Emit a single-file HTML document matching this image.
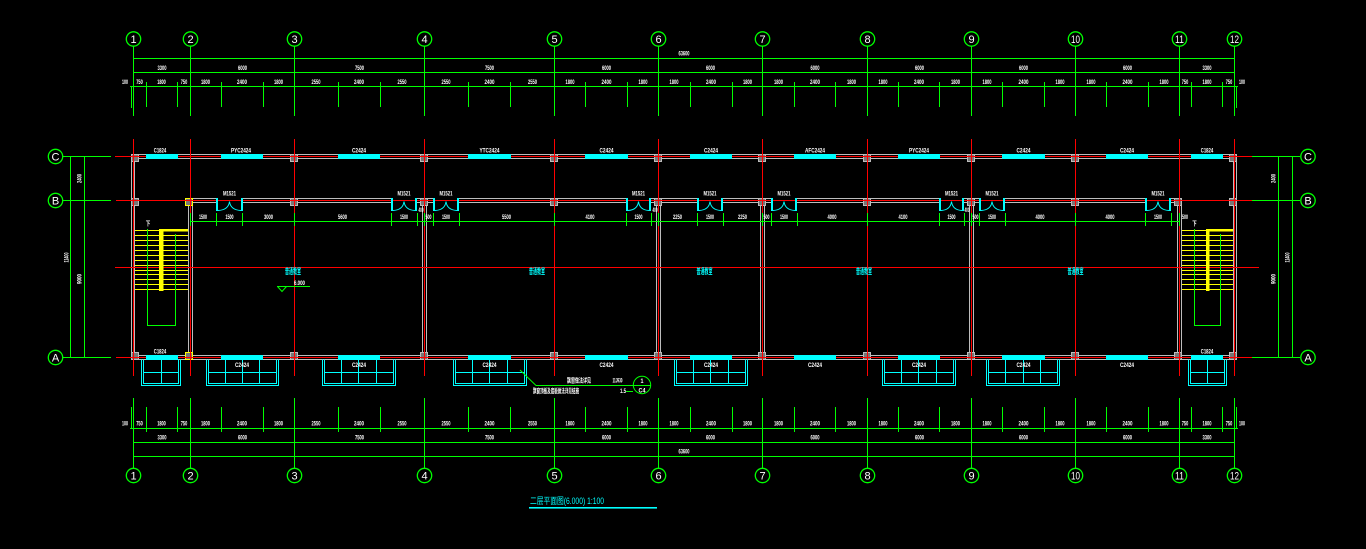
<!DOCTYPE html>
<html><head><meta charset="utf-8">
<style>
html,body{margin:0;padding:0;background:#000;}
svg{display:block;}
.t{fill:#fff;font-family:"Liberation Sans","Noto Sans CJK SC",sans-serif;font-size:6.5px;font-weight:bold;text-anchor:middle;}
.n{fill:#fff;font-family:"Liberation Sans",sans-serif;font-size:11px;text-anchor:middle;}
.cy{fill:#00ffff;font-family:"Liberation Sans","Noto Sans CJK SC",sans-serif;font-size:8px;font-weight:bold;text-anchor:middle;}
.ti{fill:#00ffff;font-family:"Liberation Sans","Noto Sans CJK SC",sans-serif;font-size:9px;}
</style></head><body>
<svg width="1366" height="549" viewBox="0 0 1366 549" xmlns="http://www.w3.org/2000/svg">
<rect width="1366" height="549" fill="#000"/>

<!-- ============ WALLS (grey) ============ -->
<g stroke="#bdbdbd" stroke-width="1" fill="none">
<path d="M131.5 154.5H1236.5M131.5 158.5H1236.5"/>
<path d="M131.5 355.5H1236.5M131.5 359.5H1236.5"/>
<path d="M131.5 154.5V359.5M134.5 158.5V355.5M1233.5 158.5V355.5M1236.5 154.5V359.5"/>
<path d="M188 198.5H216M243 198.5H391M417 198.5H433M459 198.5H626M651 198.5H697M723 198.5H771M797 198.5H939M964 198.5H979M1005 198.5H1145M1171 198.5H1182"/>
<path d="M188 202.5H216M243 202.5H391M417 202.5H433M459 202.5H626M651 202.5H697M723 202.5H771M797 202.5H939M964 202.5H979M1005 202.5H1145M1171 202.5H1182"/>
<path d="M188.5 202.5V355.5M192.5 202.5V355.5M422.5 202.5V355.5M426.5 202.5V355.5M656.5 202.5V355.5M660.5 202.5V355.5M760.5 202.5V355.5M764.5 202.5V355.5M969.5 202.5V355.5M973.5 202.5V355.5M1177.5 202.5V355.5M1181.5 202.5V355.5"/>
</g>

<!-- ============ COLUMNS ============ -->
<g fill="#777" stroke="#bdbdbd" stroke-width="1">
<rect x="131.5" y="154.5" width="7" height="7"/>
<rect x="290.5" y="154.5" width="7" height="7"/>
<rect x="420.5" y="154.5" width="7" height="7"/>
<rect x="550.5" y="154.5" width="7" height="7"/>
<rect x="654.5" y="154.5" width="7" height="7"/>
<rect x="758.5" y="154.5" width="7" height="7"/>
<rect x="863.5" y="154.5" width="7" height="7"/>
<rect x="967.5" y="154.5" width="7" height="7"/>
<rect x="1071.5" y="154.5" width="7" height="7"/>
<rect x="1229.5" y="154.5" width="7" height="7"/>

<rect x="131.5" y="198.5" width="7" height="7"/>
<rect x="290.5" y="198.5" width="7" height="7"/>
<rect x="420.5" y="198.5" width="7" height="7"/>
<rect x="550.5" y="198.5" width="7" height="7"/>
<rect x="654.5" y="198.5" width="7" height="7"/>
<rect x="758.5" y="198.5" width="7" height="7"/>
<rect x="863.5" y="198.5" width="7" height="7"/>
<rect x="967.5" y="198.5" width="7" height="7"/>
<rect x="1071.5" y="198.5" width="7" height="7"/>
<rect x="1174.5" y="198.5" width="7" height="7"/>
<rect x="1229.5" y="198.5" width="7" height="7"/>

<rect x="131.5" y="352.5" width="7" height="7"/>
<rect x="290.5" y="352.5" width="7" height="7"/>
<rect x="420.5" y="352.5" width="7" height="7"/>
<rect x="550.5" y="352.5" width="7" height="7"/>
<rect x="654.5" y="352.5" width="7" height="7"/>
<rect x="758.5" y="352.5" width="7" height="7"/>
<rect x="863.5" y="352.5" width="7" height="7"/>
<rect x="967.5" y="352.5" width="7" height="7"/>
<rect x="1071.5" y="352.5" width="7" height="7"/>
<rect x="1174.5" y="352.5" width="7" height="7"/>
<rect x="1229.5" y="352.5" width="7" height="7"/>
</g>
<g fill="#777" stroke="#ffff00" stroke-width="1">
<rect x="185.5" y="198.5" width="7" height="7"/>
<rect x="185.5" y="352.5" width="7" height="7"/>
</g>

<!-- ============ AXIS LINES (red) ============ -->
<g stroke="#ff0000" stroke-width="1" fill="none">
<path d="M115 156.5H1252M116 200.5H1252M116 357.5H1252M115 267.5H1259"/>
<path d="M133.5 139V376M190.5 139V376M294.5 139V376M424.5 139V376M554.5 139V376M658.5 139V376M762.5 139V376M867.5 139V376M971.5 139V376M1075.5 139V376M1179.5 139V376M1234.5 139V376"/>
</g>

<!-- ============ WINDOWS (cyan) ============ -->
<g fill="#00ffff">
<rect x="146" y="154" width="32" height="5"/>
<rect x="221" y="154" width="42" height="5"/>
<rect x="338" y="154" width="42" height="5"/>
<rect x="468" y="154" width="43" height="5"/>
<rect x="585" y="154" width="43" height="5"/>
<rect x="690" y="154" width="42" height="5"/>
<rect x="794" y="154" width="42" height="5"/>
<rect x="898" y="154" width="42" height="5"/>
<rect x="1002" y="154" width="43" height="5"/>
<rect x="1106" y="154" width="42" height="5"/>
<rect x="1191" y="154" width="32" height="5"/>

<rect x="146" y="355" width="32" height="5"/>
<rect x="221" y="355" width="42" height="5"/>
<rect x="338" y="355" width="42" height="5"/>
<rect x="468" y="355" width="43" height="5"/>
<rect x="585" y="355" width="43" height="5"/>
<rect x="690" y="355" width="42" height="5"/>
<rect x="794" y="355" width="42" height="5"/>
<rect x="898" y="355" width="42" height="5"/>
<rect x="1002" y="355" width="43" height="5"/>
<rect x="1106" y="355" width="42" height="5"/>
<rect x="1191" y="355" width="32" height="5"/>
</g>

<!-- Bay windows -->
<g stroke="#00ffff" stroke-width="1" fill="none">
<path d="M141.5 359.5V385.5H180.5V359.5M143.5 359.5V383.5H178.5V359.5M143.5 372.5H178.5M161.5 359.5V383.5"/>
<path d="M206.5 359.5V385.5H278.5V359.5M208.5 359.5V383.5H276.5V359.5M208.5 372.5H276.5M225.5 359.5V383.5M242.5 359.5V383.5M259.5 359.5V383.5"/>
<path d="M322.5 359.5V385.5H395.5V359.5M324.5 359.5V383.5H393.5V359.5M324.5 372.5H393.5M341.5 359.5V383.5M358.5 359.5V383.5M376.5 359.5V383.5"/>
<path d="M453.5 359.5V385.5H526.5V359.5M455.5 359.5V383.5H524.5V359.5M455.5 372.5H524.5M472.5 359.5V383.5M489.5 359.5V383.5M507.5 359.5V383.5"/>
<path d="M674.5 359.5V385.5H747.5V359.5M676.5 359.5V383.5H745.5V359.5M676.5 372.5H745.5M693.5 359.5V383.5M710.5 359.5V383.5M728.5 359.5V383.5"/>
<path d="M882.5 359.5V385.5H955.5V359.5M884.5 359.5V383.5H953.5V359.5M884.5 372.5H953.5M901.5 359.5V383.5M918.5 359.5V383.5M936.5 359.5V383.5"/>
<path d="M986.5 359.5V385.5H1059.5V359.5M988.5 359.5V383.5H1057.5V359.5M988.5 372.5H1057.5M1005.5 359.5V383.5M1023.5 359.5V383.5M1040.5 359.5V383.5"/>
<path d="M1188.5 359.5V385.5H1226.5V359.5M1190.5 359.5V383.5H1224.5V359.5M1190.5 372.5H1224.5M1207.5 359.5V383.5"/>
</g>

<!-- Doors -->
<g stroke="#00ffff" fill="none">
<g stroke-width="2">
<path d="M217 198V211M242 198V211M392 198V211M416 198V211M434 198V211M458 198V211M627 198V211M650 198V211M698 198V211M722 198V211M772 198V211M796 198V211M940 198V211M963 198V211M980 198V211M1004 198V211M1146 198V211M1170 198V211"/>
</g>
<g stroke-width="1">
<path d="M218 210.5Q228.5 210 229.5 201.5Q230.5 210 241 210.5"/>
<path d="M393 210.5Q403 210 404 201.5Q405 210 415 210.5"/>
<path d="M435 210.5Q445 210 446 201.5Q447 210 457 210.5"/>
<path d="M628 210.5Q637.5 210 638.5 201.5Q639.5 210 649 210.5"/>
<path d="M699 210.5Q709 210 710 201.5Q711 210 721 210.5"/>
<path d="M773 210.5Q783 210 784 201.5Q785 210 795 210.5"/>
<path d="M941 210.5Q950.5 210 951.5 201.5Q952.5 210 962 210.5"/>
<path d="M981 210.5Q991 210 992 201.5Q993 210 1003 210.5"/>
<path d="M1147 210.5Q1157 210 1158 201.5Q1159 210 1169 210.5"/>
</g>
</g>

<!-- ============ STAIRS ============ -->
<g stroke="#ffff00" stroke-width="1" fill="none">
<path d="M135 230.5H188M135 235.5H188M135 240.5H188M135 245.5H188M135 250.5H188M135 255.5H188M135 260.5H188M135 265.5H188M135 270.5H188M135 274.5H188M135 279.5H188M135 284.5H188M135 289.5H188"/>
<path d="M1182 230.5H1233M1182 235.5H1233M1182 240.5H1233M1182 245.5H1233M1182 250.5H1233M1182 255.5H1233M1182 260.5H1233M1182 265.5H1233M1182 270.5H1233M1182 274.5H1233M1182 279.5H1233M1182 284.5H1233M1182 289.5H1233"/>
</g>
<g fill="#ffff00">
<rect x="159" y="229" width="4.5" height="62"/>
<rect x="159" y="229" width="29" height="2.5"/>
<rect x="1206" y="229" width="3.5" height="62"/>
<rect x="1206" y="229" width="27" height="2.5"/>
</g>

<!-- ============ GREEN DIMENSIONS ============ -->
<g stroke="#00ff00" stroke-width="1" fill="none">
<!-- top -->
<path d="M133.5 46V116M190.5 46V116M294.5 46V116M424.5 46V116M554.5 46V116M658.5 46V116M762.5 46V116M867.5 46V116M971.5 46V116M1075.5 46V116M1179.5 46V116M1234.5 46V116"/>
<path d="M133 58.5H1235M133 72.5H1235M130 86.5H1238"/>
<path d="M131.5 86V108M1236.5 86V108M146.5 82V107M177.5 82V107M221.5 82V107M263.5 82V107M338.5 82V107M380.5 82V107M468.5 82V107M510.5 82V107M585.5 82V107M627.5 82V107M690.5 82V107M732.5 82V107M794.5 82V107M835.5 82V107M898.5 82V107M939.5 82V107M1002.5 82V107M1044.5 82V107M1106.5 82V107M1148.5 82V107M1191.5 82V107M1222.5 82V107"/>
<!-- bottom -->
<path d="M133.5 398V468M190.5 398V468M294.5 398V468M424.5 398V468M554.5 398V468M658.5 398V468M762.5 398V468M867.5 398V468M971.5 398V468M1075.5 398V468M1179.5 398V468M1234.5 398V468"/>
<path d="M130 428.5H1238M133 442.5H1235M133 456.5H1235"/>
<path d="M131.5 407V429M1236.5 407V429M146.5 407V432M177.5 407V432M221.5 407V432M263.5 407V432M338.5 407V432M380.5 407V432M468.5 407V432M510.5 407V432M585.5 407V432M627.5 407V432M690.5 407V432M732.5 407V432M794.5 407V432M835.5 407V432M898.5 407V432M939.5 407V432M1002.5 407V432M1044.5 407V432M1106.5 407V432M1148.5 407V432M1191.5 407V432M1222.5 407V432"/>
<!-- left / right -->
<path d="M63 156.5H111M63 200.5H111M63 357.5H111M70.5 156.5V357.5M84.5 156.5V357.5"/>
<path d="M1252 156.5H1300M1252 200.5H1300M1252 357.5H1300M1278.5 156.5V357.5M1292.5 156.5V357.5"/>
<!-- door dimension -->
<path d="M190 221.5H1180"/>
<path d="M190.5 213V226M216.5 213V226M242.5 213V226M294.5 213V226M391.5 213V226M417.5 213V226M424.5 213V226M433.5 213V226M459.5 213V226M554.5 213V226M626.5 213V226M651.5 213V226M658.5 213V226M697.5 213V226M723.5 213V226M762.5 213V226M771.5 213V226M797.5 213V226M867.5 213V226M939.5 213V226M964.5 213V226M971.5 213V226M979.5 213V226M1005.5 213V226M1075.5 213V226M1145.5 213V226M1171.5 213V226M1179.5 213V226"/>
<!-- stairs green -->
<path d="M147.5 229V325.5H175.5V234M1194.5 229V325.5H1220.5V234"/>
<!-- elevation -->
<path d="M277 286.5H310M277.5 286.5L282 291.5L286.5 286.5"/>
<!-- leader -->
<path d="M520 370L536 385.5H633M633 385.5H651M626 391.5H633"/>
<circle cx="642" cy="385" r="8.7"/>
</g>
<g stroke="#00ff00" stroke-width="1.3" fill="none">
<circle cx="133.5" cy="39" r="7.2"/><circle cx="190.5" cy="39" r="7.2"/><circle cx="294.5" cy="39" r="7.2"/><circle cx="424.5" cy="39" r="7.2"/><circle cx="554.5" cy="39" r="7.2"/><circle cx="658.5" cy="39" r="7.2"/><circle cx="762.5" cy="39" r="7.2"/><circle cx="867.5" cy="39" r="7.2"/><circle cx="971.5" cy="39" r="7.2"/><circle cx="1075.5" cy="39" r="7.2"/><circle cx="1179.5" cy="39" r="7.2"/><circle cx="1234.5" cy="39" r="7.2"/>
<circle cx="133.5" cy="475.5" r="7.2"/><circle cx="190.5" cy="475.5" r="7.2"/><circle cx="294.5" cy="475.5" r="7.2"/><circle cx="424.5" cy="475.5" r="7.2"/><circle cx="554.5" cy="475.5" r="7.2"/><circle cx="658.5" cy="475.5" r="7.2"/><circle cx="762.5" cy="475.5" r="7.2"/><circle cx="867.5" cy="475.5" r="7.2"/><circle cx="971.5" cy="475.5" r="7.2"/><circle cx="1075.5" cy="475.5" r="7.2"/><circle cx="1179.5" cy="475.5" r="7.2"/><circle cx="1234.5" cy="475.5" r="7.2"/>
<circle cx="55.5" cy="156.5" r="7.2"/><circle cx="55.5" cy="200.5" r="7.2"/><circle cx="55.5" cy="357.5" r="7.2"/>
<circle cx="1308" cy="156.5" r="7.2"/><circle cx="1308" cy="200.5" r="7.2"/><circle cx="1308" cy="357.5" r="7.2"/>
</g>

<!-- ============ AXIS NUMBERS ============ -->
<g class="n">
<text x="133.5" y="43" class="n">1</text><text x="190.5" y="43" class="n">2</text><text x="294.5" y="43" class="n">3</text><text x="424.5" y="43" class="n">4</text><text x="554.5" y="43" class="n">5</text><text x="658.5" y="43" class="n">6</text><text x="762.5" y="43" class="n">7</text><text x="867.5" y="43" class="n">8</text><text x="971.5" y="43" class="n">9</text><text x="1075.5" y="43" class="n" textLength="9" lengthAdjust="spacingAndGlyphs">10</text><text x="1179.5" y="43" class="n" textLength="9" lengthAdjust="spacingAndGlyphs">11</text><text x="1234.5" y="43" class="n" textLength="9" lengthAdjust="spacingAndGlyphs">12</text>
<text x="133.5" y="479.5" class="n">1</text><text x="190.5" y="479.5" class="n">2</text><text x="294.5" y="479.5" class="n">3</text><text x="424.5" y="479.5" class="n">4</text><text x="554.5" y="479.5" class="n">5</text><text x="658.5" y="479.5" class="n">6</text><text x="762.5" y="479.5" class="n">7</text><text x="867.5" y="479.5" class="n">8</text><text x="971.5" y="479.5" class="n">9</text><text x="1075.5" y="479.5" class="n" textLength="9" lengthAdjust="spacingAndGlyphs">10</text><text x="1179.5" y="479.5" class="n" textLength="9" lengthAdjust="spacingAndGlyphs">11</text><text x="1234.5" y="479.5" class="n" textLength="9" lengthAdjust="spacingAndGlyphs">12</text>
<text x="55.5" y="160.5" class="n">C</text><text x="55.5" y="204.5" class="n">B</text><text x="55.5" y="361.5" class="n">A</text>
<text x="1308" y="160.5" class="n">C</text><text x="1308" y="204.5" class="n">B</text><text x="1308" y="361.5" class="n">A</text>
</g>

<!-- ============ DIMENSION TEXT ============ -->
<g class="t" lengthAdjust="spacingAndGlyphs">
<!-- overall -->
<text x="684" y="55.5" class="t" textLength="11" lengthAdjust="spacingAndGlyphs">63600</text>
<text x="684" y="453.5" class="t" textLength="11" lengthAdjust="spacingAndGlyphs">63600</text>
</g>
<g>
<!-- top axis row -->
<text x="162" y="70" class="t" textLength="9" lengthAdjust="spacingAndGlyphs">3300</text>
<text x="242.5" y="70" class="t" textLength="9" lengthAdjust="spacingAndGlyphs">6000</text>
<text x="359.5" y="70" class="t" textLength="9" lengthAdjust="spacingAndGlyphs">7500</text>
<text x="489.5" y="70" class="t" textLength="9" lengthAdjust="spacingAndGlyphs">7500</text>
<text x="606.5" y="70" class="t" textLength="9" lengthAdjust="spacingAndGlyphs">6000</text>
<text x="710.5" y="70" class="t" textLength="9" lengthAdjust="spacingAndGlyphs">6000</text>
<text x="815" y="70" class="t" textLength="9" lengthAdjust="spacingAndGlyphs">6000</text>
<text x="919.5" y="70" class="t" textLength="9" lengthAdjust="spacingAndGlyphs">6000</text>
<text x="1023.5" y="70" class="t" textLength="9" lengthAdjust="spacingAndGlyphs">6000</text>
<text x="1127.5" y="70" class="t" textLength="9" lengthAdjust="spacingAndGlyphs">6000</text>
<text x="1207" y="70" class="t" textLength="9" lengthAdjust="spacingAndGlyphs">3300</text>
<!-- bottom axis row -->
<text x="162" y="439.5" class="t" textLength="9" lengthAdjust="spacingAndGlyphs">3300</text>
<text x="242.5" y="439.5" class="t" textLength="9" lengthAdjust="spacingAndGlyphs">6000</text>
<text x="359.5" y="439.5" class="t" textLength="9" lengthAdjust="spacingAndGlyphs">7500</text>
<text x="489.5" y="439.5" class="t" textLength="9" lengthAdjust="spacingAndGlyphs">7500</text>
<text x="606.5" y="439.5" class="t" textLength="9" lengthAdjust="spacingAndGlyphs">6000</text>
<text x="710.5" y="439.5" class="t" textLength="9" lengthAdjust="spacingAndGlyphs">6000</text>
<text x="815" y="439.5" class="t" textLength="9" lengthAdjust="spacingAndGlyphs">6000</text>
<text x="919.5" y="439.5" class="t" textLength="9" lengthAdjust="spacingAndGlyphs">6000</text>
<text x="1023.5" y="439.5" class="t" textLength="9" lengthAdjust="spacingAndGlyphs">6000</text>
<text x="1127.5" y="439.5" class="t" textLength="9" lengthAdjust="spacingAndGlyphs">6000</text>
<text x="1207" y="439.5" class="t" textLength="9" lengthAdjust="spacingAndGlyphs">3300</text>
</g>
<!-- detail rows top (y=84) -->
<g>
<text x="125" y="84" class="t" textLength="6" lengthAdjust="spacingAndGlyphs">100</text>
<text x="139.5" y="84" class="t" textLength="6.5" lengthAdjust="spacingAndGlyphs">750</text>
<text x="161.5" y="84" class="t" textLength="8.5" lengthAdjust="spacingAndGlyphs">1800</text>
<text x="184" y="84" class="t" textLength="6.5" lengthAdjust="spacingAndGlyphs">750</text>
<text x="205.5" y="84" class="t" textLength="9" lengthAdjust="spacingAndGlyphs">1800</text>
<text x="242" y="84" class="t" textLength="10" lengthAdjust="spacingAndGlyphs">2400</text>
<text x="278.5" y="84" class="t" textLength="9" lengthAdjust="spacingAndGlyphs">1800</text>
<text x="316" y="84" class="t" textLength="9" lengthAdjust="spacingAndGlyphs">2550</text>
<text x="359" y="84" class="t" textLength="10" lengthAdjust="spacingAndGlyphs">2400</text>
<text x="402" y="84" class="t" textLength="9" lengthAdjust="spacingAndGlyphs">2550</text>
<text x="446" y="84" class="t" textLength="9" lengthAdjust="spacingAndGlyphs">2550</text>
<text x="489.5" y="84" class="t" textLength="10" lengthAdjust="spacingAndGlyphs">2400</text>
<text x="532.5" y="84" class="t" textLength="9" lengthAdjust="spacingAndGlyphs">2550</text>
<text x="570" y="84" class="t" textLength="9" lengthAdjust="spacingAndGlyphs">1800</text>
<text x="606.5" y="84" class="t" textLength="10" lengthAdjust="spacingAndGlyphs">2400</text>
<text x="643" y="84" class="t" textLength="9" lengthAdjust="spacingAndGlyphs">1800</text>
<text x="674" y="84" class="t" textLength="9" lengthAdjust="spacingAndGlyphs">1800</text>
<text x="711" y="84" class="t" textLength="10" lengthAdjust="spacingAndGlyphs">2400</text>
<text x="747.5" y="84" class="t" textLength="9" lengthAdjust="spacingAndGlyphs">1800</text>
<text x="778.5" y="84" class="t" textLength="9" lengthAdjust="spacingAndGlyphs">1800</text>
<text x="815" y="84" class="t" textLength="10" lengthAdjust="spacingAndGlyphs">2400</text>
<text x="851.5" y="84" class="t" textLength="9" lengthAdjust="spacingAndGlyphs">1800</text>
<text x="883" y="84" class="t" textLength="9" lengthAdjust="spacingAndGlyphs">1800</text>
<text x="919" y="84" class="t" textLength="10" lengthAdjust="spacingAndGlyphs">2400</text>
<text x="955.5" y="84" class="t" textLength="9" lengthAdjust="spacingAndGlyphs">1800</text>
<text x="987" y="84" class="t" textLength="9" lengthAdjust="spacingAndGlyphs">1800</text>
<text x="1023.5" y="84" class="t" textLength="10" lengthAdjust="spacingAndGlyphs">2400</text>
<text x="1060" y="84" class="t" textLength="9" lengthAdjust="spacingAndGlyphs">1800</text>
<text x="1091" y="84" class="t" textLength="9" lengthAdjust="spacingAndGlyphs">1800</text>
<text x="1127.5" y="84" class="t" textLength="10" lengthAdjust="spacingAndGlyphs">2400</text>
<text x="1164" y="84" class="t" textLength="9" lengthAdjust="spacingAndGlyphs">1800</text>
<text x="1185" y="84" class="t" textLength="6.5" lengthAdjust="spacingAndGlyphs">750</text>
<text x="1207" y="84" class="t" textLength="9" lengthAdjust="spacingAndGlyphs">1800</text>
<text x="1229" y="84" class="t" textLength="6.5" lengthAdjust="spacingAndGlyphs">750</text>
<text x="1242" y="84" class="t" textLength="6" lengthAdjust="spacingAndGlyphs">100</text>
</g>
<!-- detail rows bottom (y=425.5) -->
<g>
<text x="125" y="425.5" class="t" textLength="6" lengthAdjust="spacingAndGlyphs">100</text>
<text x="139.5" y="425.5" class="t" textLength="6.5" lengthAdjust="spacingAndGlyphs">750</text>
<text x="161.5" y="425.5" class="t" textLength="8.5" lengthAdjust="spacingAndGlyphs">1800</text>
<text x="184" y="425.5" class="t" textLength="6.5" lengthAdjust="spacingAndGlyphs">750</text>
<text x="205.5" y="425.5" class="t" textLength="9" lengthAdjust="spacingAndGlyphs">1800</text>
<text x="242" y="425.5" class="t" textLength="10" lengthAdjust="spacingAndGlyphs">2400</text>
<text x="278.5" y="425.5" class="t" textLength="9" lengthAdjust="spacingAndGlyphs">1800</text>
<text x="316" y="425.5" class="t" textLength="9" lengthAdjust="spacingAndGlyphs">2550</text>
<text x="359" y="425.5" class="t" textLength="10" lengthAdjust="spacingAndGlyphs">2400</text>
<text x="402" y="425.5" class="t" textLength="9" lengthAdjust="spacingAndGlyphs">2550</text>
<text x="446" y="425.5" class="t" textLength="9" lengthAdjust="spacingAndGlyphs">2550</text>
<text x="489.5" y="425.5" class="t" textLength="10" lengthAdjust="spacingAndGlyphs">2400</text>
<text x="532.5" y="425.5" class="t" textLength="9" lengthAdjust="spacingAndGlyphs">2550</text>
<text x="570" y="425.5" class="t" textLength="9" lengthAdjust="spacingAndGlyphs">1800</text>
<text x="606.5" y="425.5" class="t" textLength="10" lengthAdjust="spacingAndGlyphs">2400</text>
<text x="643" y="425.5" class="t" textLength="9" lengthAdjust="spacingAndGlyphs">1800</text>
<text x="674" y="425.5" class="t" textLength="9" lengthAdjust="spacingAndGlyphs">1800</text>
<text x="711" y="425.5" class="t" textLength="10" lengthAdjust="spacingAndGlyphs">2400</text>
<text x="747.5" y="425.5" class="t" textLength="9" lengthAdjust="spacingAndGlyphs">1800</text>
<text x="778.5" y="425.5" class="t" textLength="9" lengthAdjust="spacingAndGlyphs">1800</text>
<text x="815" y="425.5" class="t" textLength="10" lengthAdjust="spacingAndGlyphs">2400</text>
<text x="851.5" y="425.5" class="t" textLength="9" lengthAdjust="spacingAndGlyphs">1800</text>
<text x="883" y="425.5" class="t" textLength="9" lengthAdjust="spacingAndGlyphs">1800</text>
<text x="919" y="425.5" class="t" textLength="10" lengthAdjust="spacingAndGlyphs">2400</text>
<text x="955.5" y="425.5" class="t" textLength="9" lengthAdjust="spacingAndGlyphs">1800</text>
<text x="987" y="425.5" class="t" textLength="9" lengthAdjust="spacingAndGlyphs">1800</text>
<text x="1023.5" y="425.5" class="t" textLength="10" lengthAdjust="spacingAndGlyphs">2400</text>
<text x="1060" y="425.5" class="t" textLength="9" lengthAdjust="spacingAndGlyphs">1800</text>
<text x="1091" y="425.5" class="t" textLength="9" lengthAdjust="spacingAndGlyphs">1800</text>
<text x="1127.5" y="425.5" class="t" textLength="10" lengthAdjust="spacingAndGlyphs">2400</text>
<text x="1164" y="425.5" class="t" textLength="9" lengthAdjust="spacingAndGlyphs">1800</text>
<text x="1185" y="425.5" class="t" textLength="6.5" lengthAdjust="spacingAndGlyphs">750</text>
<text x="1207" y="425.5" class="t" textLength="9" lengthAdjust="spacingAndGlyphs">1800</text>
<text x="1229" y="425.5" class="t" textLength="6.5" lengthAdjust="spacingAndGlyphs">750</text>
<text x="1242" y="425.5" class="t" textLength="6" lengthAdjust="spacingAndGlyphs">100</text>
</g>

<!-- door dimension text -->
<g>
<text x="203" y="219" class="t" textLength="8" lengthAdjust="spacingAndGlyphs">1500</text>
<text x="229.5" y="219" class="t" textLength="8" lengthAdjust="spacingAndGlyphs">1500</text>
<text x="268.5" y="219" class="t" textLength="9" lengthAdjust="spacingAndGlyphs">3000</text>
<text x="342.5" y="219" class="t" textLength="9" lengthAdjust="spacingAndGlyphs">5600</text>
<text x="404" y="219" class="t" textLength="8" lengthAdjust="spacingAndGlyphs">1500</text>
<text x="421" y="212" class="t" textLength="5" lengthAdjust="spacingAndGlyphs">400</text>
<text x="428.5" y="219" class="t" textLength="6" lengthAdjust="spacingAndGlyphs">500</text>
<text x="446" y="219" class="t" textLength="8" lengthAdjust="spacingAndGlyphs">1500</text>
<text x="506.5" y="219" class="t" textLength="9" lengthAdjust="spacingAndGlyphs">5500</text>
<text x="590" y="219" class="t" textLength="9" lengthAdjust="spacingAndGlyphs">4100</text>
<text x="638.5" y="219" class="t" textLength="8" lengthAdjust="spacingAndGlyphs">1500</text>
<text x="655" y="212" class="t" textLength="5" lengthAdjust="spacingAndGlyphs">400</text>
<text x="677.5" y="219" class="t" textLength="9" lengthAdjust="spacingAndGlyphs">2250</text>
<text x="710" y="219" class="t" textLength="8" lengthAdjust="spacingAndGlyphs">1500</text>
<text x="742.5" y="219" class="t" textLength="9" lengthAdjust="spacingAndGlyphs">2250</text>
<text x="766.5" y="219" class="t" textLength="6" lengthAdjust="spacingAndGlyphs">500</text>
<text x="784" y="219" class="t" textLength="8" lengthAdjust="spacingAndGlyphs">1500</text>
<text x="832" y="219" class="t" textLength="9" lengthAdjust="spacingAndGlyphs">4000</text>
<text x="903" y="219" class="t" textLength="9" lengthAdjust="spacingAndGlyphs">4100</text>
<text x="951.5" y="219" class="t" textLength="8" lengthAdjust="spacingAndGlyphs">1500</text>
<text x="967" y="212" class="t" textLength="5" lengthAdjust="spacingAndGlyphs">400</text>
<text x="975.5" y="219" class="t" textLength="6" lengthAdjust="spacingAndGlyphs">500</text>
<text x="992" y="219" class="t" textLength="8" lengthAdjust="spacingAndGlyphs">1500</text>
<text x="1040" y="219" class="t" textLength="9" lengthAdjust="spacingAndGlyphs">4000</text>
<text x="1110" y="219" class="t" textLength="9" lengthAdjust="spacingAndGlyphs">4000</text>
<text x="1158" y="219" class="t" textLength="8" lengthAdjust="spacingAndGlyphs">1500</text>
<text x="1185" y="219" class="t" textLength="6" lengthAdjust="spacingAndGlyphs">500</text>
</g>

<!-- door labels -->
<g>
<text x="229.5" y="195.5" class="t" textLength="13" lengthAdjust="spacingAndGlyphs">M1521</text>
<text x="404" y="195.5" class="t" textLength="13" lengthAdjust="spacingAndGlyphs">M1521</text>
<text x="446" y="195.5" class="t" textLength="13" lengthAdjust="spacingAndGlyphs">M1521</text>
<text x="638.5" y="195.5" class="t" textLength="13" lengthAdjust="spacingAndGlyphs">M1521</text>
<text x="710" y="195.5" class="t" textLength="13" lengthAdjust="spacingAndGlyphs">M1521</text>
<text x="784" y="195.5" class="t" textLength="13" lengthAdjust="spacingAndGlyphs">M1521</text>
<text x="951.5" y="195.5" class="t" textLength="13" lengthAdjust="spacingAndGlyphs">M1521</text>
<text x="992" y="195.5" class="t" textLength="13" lengthAdjust="spacingAndGlyphs">M1521</text>
<text x="1158" y="195.5" class="t" textLength="13" lengthAdjust="spacingAndGlyphs">M1521</text>
</g>

<!-- window labels C row -->
<g>
<text x="160" y="152.7" class="t" textLength="12.5" lengthAdjust="spacingAndGlyphs">C1824</text>
<text x="241" y="152.7" class="t" textLength="20" lengthAdjust="spacingAndGlyphs">PYC2424</text>
<text x="359" y="152.7" class="t" textLength="14" lengthAdjust="spacingAndGlyphs">C2424</text>
<text x="489.5" y="152.7" class="t" textLength="20" lengthAdjust="spacingAndGlyphs">YTC2424</text>
<text x="606.5" y="152.7" class="t" textLength="14" lengthAdjust="spacingAndGlyphs">C2424</text>
<text x="711" y="152.7" class="t" textLength="14" lengthAdjust="spacingAndGlyphs">C2424</text>
<text x="815" y="152.7" class="t" textLength="20" lengthAdjust="spacingAndGlyphs">AFC2424</text>
<text x="919" y="152.7" class="t" textLength="20" lengthAdjust="spacingAndGlyphs">PYC2424</text>
<text x="1023.5" y="152.7" class="t" textLength="14" lengthAdjust="spacingAndGlyphs">C2424</text>
<text x="1127" y="152.7" class="t" textLength="14" lengthAdjust="spacingAndGlyphs">C2424</text>
<text x="1207" y="152.7" class="t" textLength="12.5" lengthAdjust="spacingAndGlyphs">C1824</text>
</g>
<!-- window labels A row -->
<g>
<text x="160" y="353.7" class="t" textLength="12.5" lengthAdjust="spacingAndGlyphs">C1824</text>
<text x="242" y="367" class="t" textLength="14" lengthAdjust="spacingAndGlyphs">C2424</text>
<text x="359" y="367" class="t" textLength="14" lengthAdjust="spacingAndGlyphs">C2424</text>
<text x="489.5" y="367" class="t" textLength="14" lengthAdjust="spacingAndGlyphs">C2424</text>
<text x="606.5" y="367" class="t" textLength="14" lengthAdjust="spacingAndGlyphs">C2424</text>
<text x="711" y="367" class="t" textLength="14" lengthAdjust="spacingAndGlyphs">C2424</text>
<text x="815" y="367" class="t" textLength="14" lengthAdjust="spacingAndGlyphs">C2424</text>
<text x="919" y="367" class="t" textLength="14" lengthAdjust="spacingAndGlyphs">C2424</text>
<text x="1023.5" y="367" class="t" textLength="14" lengthAdjust="spacingAndGlyphs">C2424</text>
<text x="1127" y="367" class="t" textLength="14" lengthAdjust="spacingAndGlyphs">C2424</text>
<text x="1207" y="353.7" class="t" textLength="12.5" lengthAdjust="spacingAndGlyphs">C1824</text>
</g>

<!-- side dimension text (rotated) -->
<g>
<text class="t" transform="translate(81.3,178.5) rotate(-90)" textLength="9" lengthAdjust="spacingAndGlyphs">2400</text>
<text class="t" transform="translate(81.3,279) rotate(-90)" textLength="10" lengthAdjust="spacingAndGlyphs">9000</text>
<text class="t" transform="translate(68.3,257.5) rotate(-90)" textLength="10" lengthAdjust="spacingAndGlyphs">11400</text>
<text class="t" transform="translate(1275.3,178.5) rotate(-90)" textLength="9" lengthAdjust="spacingAndGlyphs">2400</text>
<text class="t" transform="translate(1275.3,279) rotate(-90)" textLength="10" lengthAdjust="spacingAndGlyphs">9000</text>
<text class="t" transform="translate(1289.3,257.5) rotate(-90)" textLength="10" lengthAdjust="spacingAndGlyphs">11400</text>
</g>

<!-- stair marks -->
<text x="148" y="225.5" class="t" textLength="4.5" lengthAdjust="spacingAndGlyphs">下</text>
<text x="1194.5" y="225.5" class="t" textLength="4.5" lengthAdjust="spacingAndGlyphs">下</text>

<!-- room labels -->
<g>
<text x="293" y="274" class="cy" textLength="16" lengthAdjust="spacingAndGlyphs">普通教室</text>
<text x="537" y="274" class="cy" textLength="16" lengthAdjust="spacingAndGlyphs">普通教室</text>
<text x="704.5" y="274" class="cy" textLength="16" lengthAdjust="spacingAndGlyphs">普通教室</text>
<text x="864" y="274" class="cy" textLength="16" lengthAdjust="spacingAndGlyphs">普通教室</text>
<text x="1075.5" y="274" class="cy" textLength="16" lengthAdjust="spacingAndGlyphs">普通教室</text>
</g>

<!-- elevation -->
<text x="299.5" y="285" class="t" textLength="11" lengthAdjust="spacingAndGlyphs">6.000</text>

<!-- bay annotation -->
<g>
<text x="579" y="382.5" class="t" textLength="24" lengthAdjust="spacingAndGlyphs">飘窗做法详见</text>
<text x="617.5" y="382.5" class="t" textLength="10" lengthAdjust="spacingAndGlyphs">11J930</text>
<text x="556" y="393" class="t" textLength="46" lengthAdjust="spacingAndGlyphs">飘窗顶板及底板做法详见结施</text>
<text x="623" y="393" class="t" textLength="6" lengthAdjust="spacingAndGlyphs">1.5</text>
<text x="642" y="383" class="t" textLength="3" lengthAdjust="spacingAndGlyphs">1</text>
<text x="642" y="392.5" class="t" textLength="7" lengthAdjust="spacingAndGlyphs">C4</text>
</g>

<!-- title -->
<text x="530" y="504" class="ti" textLength="74" lengthAdjust="spacingAndGlyphs">二层平面图(6.000) 1:100</text>
<rect x="529" y="507" width="128" height="1.6" fill="#00ffff"/>
</svg>
</body></html>
